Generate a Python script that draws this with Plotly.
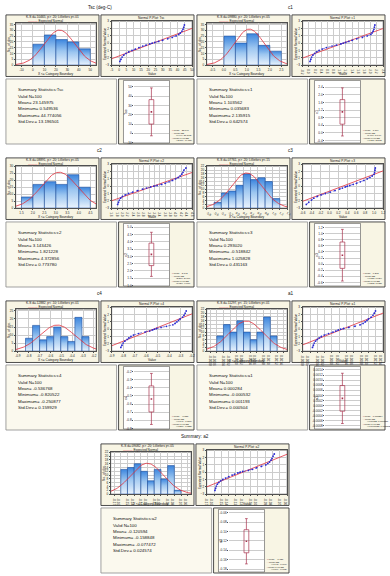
import numpy as np
import plotly.graph_objects as go

W, H = 390, 576
FONT = "Liberation Sans, Arial, sans-serif"

# ---------------- data ----------------
names = ["Tsc", "c1", "c2", "c3", "c4", "a1", "a2"]
block_titles = ["Tsc (deg-C)", "c1", "c2", "c3", "c4", "a1", "Summary: a2"]

# histogram: left edges of categories, category width, counts
tsc_bin_left = [0, 10, 20, 30, 40]
tsc_bin_width = 10
tsc_counts = [18, 26, 22, 20, 14]
c1_bin_left = [0.0, 0.5, 1.0, 1.5, 2.0]
c1_bin_width = 0.5
c1_counts = [25, 19, 27, 17, 12]
c2_bin_left = [1.5, 2.0, 2.5, 3.0, 3.5, 4.0]
c2_bin_width = 0.5
c2_counts = [8, 17, 19, 17, 24, 15]
c3_bin_left = [-0.6, -0.4, -0.2, 0.0, 0.2, 0.4, 0.6, 0.8, 1.0]
c3_bin_width = 0.2
c3_counts = [3, 8, 9, 12, 18, 15, 16, 14, 5]
c4_bin_left = [-0.83, -0.765, -0.70, -0.635, -0.57, -0.505, -0.44, -0.375, -0.31]
c4_bin_width = 0.065
c4_counts = [8, 16, 7, 9, 15, 9, 6, 21, 9]
a1_bin_left = [-0.0006, -0.0004, -0.0002, 0.0, 0.0002, 0.0004, 0.0006, 0.0008, 0.0010]
a1_bin_width = 0.0002
a1_counts = [8, 14, 10, 16, 10, 6, 10, 18, 8]
a2_bin_left = [-0.16, -0.15, -0.14, -0.13, -0.12, -0.11, -0.10, -0.09, -0.08]
a2_bin_width = 0.01
a2_counts = [13, 14, 16, 12, 7, 13, 8, 15, 2]

# summary statistics: valid N, mean, minimum, maximum, std.dev.
tsc_stats = [100, 23.145975, 0.549536, 44.774056, 13.196501]
c1_stats = [100, 1.103562, 0.035683, 2.135915, 0.642574]
c2_stats = [100, 3.143426, 1.821228, 4.372856, 0.773780]
c3_stats = [100, 0.293020, -0.518842, 1.025828, 0.431163]
c4_stats = [100, -0.536768, -0.820522, -0.250877, 0.159929]
a1_stats = [100, 0.000284, -0.000532, 0.001193, 0.000504]
a2_stats = [100, -0.120594, -0.158848, -0.077472, 0.024574]

ks_texts = [
    "K-S d=.10465, p> .20; Lilliefors p<.01",
    "K-S d=.09880, p> .20; Lilliefors p<.05",
    "K-S d=.08891, p> .20; Lilliefors p<.05",
    "K-S d=.07761, p> .20; Lilliefors p<.15",
    "K-S d=.12882, p< .10; Lilliefors p<.01",
    "K-S d=.11297, p< .15; Lilliefors p<.01",
    "K-S d=.09082, p> .20; Lilliefors p<.05",
]

# normal probability plot: expected normal values and observed values
pp_z = [-2.5, -2.2, -1.9, -1.65, -1.4, -1.2, -1.0, -0.8, -0.6, -0.4, -0.25, -0.1, 0.0,
        0.1, 0.25, 0.4, 0.6, 0.8, 1.0, 1.2, 1.4, 1.65, 1.9, 2.2, 2.5]
tsc_pp = [0.55, 1.3, 2.1, 3.2, 4.8, 6.6, 8.9, 11.2, 13.6, 16.3, 18.5, 20.9, 22.7,
          24.5, 27.2, 29.8, 33.3, 36.4, 39.1, 40.9, 42.0, 43.1, 43.8, 44.3, 44.77]
c1_pp = [0.036, 0.062, 0.089, 0.128, 0.186, 0.250, 0.331, 0.429, 0.564, 0.749, 0.898, 1.037, 1.111,
         1.185, 1.294, 1.399, 1.546, 1.730, 1.886, 2.006, 2.044, 2.080, 2.104, 2.120, 2.136]
c2_pp = [1.821, 1.852, 1.885, 1.932, 2.002, 2.103, 2.231, 2.388, 2.564, 2.749, 2.898, 3.059, 3.176,
         3.294, 3.467, 3.595, 3.741, 3.871, 3.982, 4.087, 4.155, 4.218, 4.261, 4.295, 4.373]
c3_pp = [-0.519, -0.464, -0.405, -0.351, -0.273, -0.189, -0.092, 0.020, 0.124, 0.227, 0.290, 0.356, 0.400,
         0.453, 0.532, 0.607, 0.689, 0.773, 0.845, 0.907, 0.956, 1.000, 1.011, 1.019, 1.026]
c4_pp = [-0.8205, -0.811, -0.801, -0.786, -0.765, -0.751, -0.732, -0.711, -0.668, -0.610, -0.569, -0.544, -0.527,
         -0.509, -0.470, -0.423, -0.367, -0.348, -0.332, -0.318, -0.304, -0.283, -0.270, -0.260, -0.2509]
a1_pp = [-0.000532, -0.000509, -0.000485, -0.000450, -0.000399, -0.000350, -0.000288, -0.000212, -0.000091,
         0.000031, 0.000102, 0.000175, 0.000240, 0.000320, 0.000462, 0.000631, 0.000771, 0.000853, 0.000913,
         0.000961, 0.000999, 0.001074, 0.001124, 0.001160, 0.001193]
a2_pp = [-0.1588, -0.1579, -0.1569, -0.1555, -0.1534, -0.1510, -0.1480, -0.1442, -0.1397, -0.1353, -0.1317,
         -0.1275, -0.1242, -0.1208, -0.1130, -0.1073, -0.1019, -0.0952, -0.0892, -0.0863, -0.0839, -0.0820,
         -0.0806, -0.0792, -0.0775]

# ---------------- per-variable axis settings ----------------
cfg = {
    "Tsc": dict(hx=[-15, 55], hdt=10, hy=[0, 36], hydt=5, px=[-5, 50], pdt=5, by=[-10, 56], bdt=10,
                bins=(tsc_bin_left, tsc_bin_width, tsc_counts), st=tsc_stats, pp=tsc_pp, org=(2, 0)),
    "c1": dict(hx=[-0.75, 2.75], hdt=0.5, hy=[0, 36], hydt=5, px=[-0.2, 2.4], pdt=0.2, by=[-0.5, 2.7], bdt=0.4,
               bins=(c1_bin_left, c1_bin_width, c1_counts), st=c1_stats, pp=c1_pp, org=(197, 0)),
    "c2": dict(hx=[1.25, 4.75], hdt=0.5, hy=[0, 30], hydt=5, px=[1.6, 4.6], pdt=0.2, by=[1.0, 5.2], bdt=0.5,
               bins=(c2_bin_left, c2_bin_width, c2_counts), st=c2_stats, pp=c2_pp, org=(2, 144)),
    "c3": dict(hx=[-0.8, 1.4], hdt=0.2, hy=[0, 22], hydt=2, px=[-0.6, 1.2], pdt=0.2, by=[-0.7, 1.3], bdt=0.2,
               bins=(c3_bin_left, c3_bin_width, c3_counts), st=c3_stats, pp=c3_pp, org=(197, 144)),
    "c4": dict(hx=[-0.92, -0.18], hdt=0.1, hy=[0, 26], hydt=5, px=[-0.9, -0.2], pdt=0.1, by=[-0.9, -0.15], bdt=0.1,
               bins=(c4_bin_left, c4_bin_width, c4_counts), st=c4_stats, pp=c4_pp, org=(2, 288)),
    "a1": dict(hx=[-0.0009, 0.0015], hdt=0.0002, hy=[0, 22], hydt=2, px=[-0.0008, 0.0014], pdt=0.0002,
               by=[-0.0009, 0.0015], bdt=0.0002,
               bins=(a1_bin_left, a1_bin_width, a1_counts), st=a1_stats, pp=a1_pp, org=(197, 288)),
    "a2": dict(hx=[-0.175, -0.055], hdt=0.01, hy=[0, 22], hydt=2, px=[-0.17, -0.06], pdt=0.01, by=[-0.185, -0.055],
               bdt=0.02, bins=(a2_bin_left, a2_bin_width, a2_counts), st=a2_stats, pp=a2_pp, org=(99, 432)),
}

# ---------------- helpers ----------------
fig = go.Figure()
shapes, annos, axes = [], [], {}
axn = [0]

CREAM = "#f8f5e4"
BORDER = "#3a3a3a"
BOXRED = "#a8324e"


def add_axes(x0, x1, y0, y1, xa, ya):
    axn[0] += 1
    n = axn[0]
    s = "" if n == 1 else str(n)
    xa = dict(xa)
    ya = dict(ya)
    xa.update(domain=[x0 / W, x1 / W], anchor="y" + s)
    ya.update(domain=[1 - y1 / H, 1 - y0 / H], anchor="x" + s)
    axes["xaxis" + s] = xa
    axes["yaxis" + s] = ya
    return "x" + s, "y" + s


def axstyle(**kw):
    d = dict(showgrid=True, gridcolor="#cccccc", gridwidth=0.5, zeroline=False, showline=True,
             linecolor="#505050", linewidth=0.6, mirror=True, ticks="outside", ticklen=1.2,
             tickwidth=0.5, tickcolor="#505050", tickfont=dict(size=3.1, family=FONT, color="#222"),
             showticklabels=True)
    d.update(kw)
    return d


def rect(x0, y0, x1, y1, fill, line, lw=0.8):
    shapes.append(dict(type="rect", xref="paper", yref="paper", x0=x0 / W, x1=x1 / W,
                       y0=1 - y1 / H, y1=1 - y0 / H, fillcolor=fill,
                       line=dict(color=line, width=lw), layer="below"))


def text(x, y, s, size=4, xanchor="center", yanchor="middle", color="#111", angle=0):
    annos.append(dict(x=x / W, y=1 - y / H, xref="paper", yref="paper", text=s, showarrow=False,
                      xanchor=xanchor, yanchor=yanchor, textangle=angle,
                      font=dict(size=size, family=FONT, color=color)))


def fmt_ticks(lo, hi, dt, stagger=False):
    vals, txt = [], []
    k0 = int(np.ceil(lo / dt - 1e-9))
    k1 = int(np.floor(hi / dt + 1e-9))
    dec = max(0, int(np.ceil(-np.log10(dt) - 1e-9)))
    if abs(dt * 10 ** dec - round(dt * 10 ** dec)) > 1e-9:
        dec += 1
    for i, k in enumerate(range(k0, k1 + 1)):
        v = round(k * dt, 10)
        t = f"{v:.{dec}f}"
        if t.startswith("-") and float(t) == 0:
            t = t[1:]
        if stagger and i % 2 == 1:
            t = "<br>" + t
        vals.append(v)
        txt.append(t)
    return vals, txt


def short(v):
    return f"{v:.4g}" if abs(v) < 0.01 else f"{v:.3f}"


def draw(idx, name):
    c = cfg[name]
    gx, gy = c["org"]
    lefts, width, counts = c["bins"]
    n, mean, vmin, vmax, sd = c["st"]
    stag = name in ("a1", "a2")

    # block title
    text(gx + 97, gy + 6, block_titles[idx], size=4.6)

    # ---------- histogram panel ----------
    rect(gx + 1, gy + 13, gx + 96, gy + 75, CREAM, BORDER, 0.9)
    px0, px1, py0, py1 = gx + 11, gx + 93, gy + 21.5, gy + 63.5
    rect(px0, py0, px1, py1, "white", "#505050", 0.5)
    tv, tt = fmt_ticks(c["hx"][0], c["hx"][1], c["hdt"], stagger=stag)
    yv, yt = fmt_ticks(c["hy"][0], c["hy"][1], c["hydt"])
    xr, yr = add_axes(px0, px1, py0, py1,
                      axstyle(range=c["hx"], tickvals=tv, ticktext=tt),
                      axstyle(range=c["hy"], tickvals=yv, ticktext=yt))
    for l, h in zip(lefts, counts):
        fig.add_trace(go.Scatter(
            x=[l, l, l + width, l + width, l], y=[0, h, h, 0, 0], xaxis=xr, yaxis=yr,
            mode="lines", fill="toself", line=dict(color="#1e4f9c", width=0.6),
            fillgradient=dict(type="vertical", colorscale=[[0, "#eaf3fd"], [0.55, "#9cc6f0"], [1, "#3d86de"]]),
            hoverinfo="skip", showlegend=False))
    xs = np.linspace(c["hx"][0], c["hx"][1], 120)
    ys = n * width / (sd * np.sqrt(2 * np.pi)) * np.exp(-0.5 * ((xs - mean) / sd) ** 2)
    fig.add_trace(go.Scatter(x=xs, y=ys, xaxis=xr, yaxis=yr, mode="lines",
                             line=dict(color="#e0303c", width=0.8), hoverinfo="skip", showlegend=False))
    text(gx + 48.5, gy + 15.5, ks_texts[idx], size=3.2)
    text(gx + 41, gy + 19, "<span style='color:#e0303c'>———</span> Expected Normal", size=3.2)
    xt_y = gy + 73.3 if stag else gy + 72.6
    text(gx + 52, xt_y, "X <= Category Boundary", size=3.2)
    text(gx + 4, (py0 + py1) / 2, "No. of obs.", size=3.3, angle=-90)

    # ---------- normal P-plot panel ----------
    rect(gx + 98, gy + 13, gx + 193, gy + 75, CREAM, BORDER, 0.9)
    qx0, qx1, qy0, qy1 = gx + 109, gx + 191, gy + 19.5, gy + 63.5
    rect(qx0, qy0, qx1, qy1, "white", "#505050", 0.5)
    tv, tt = fmt_ticks(c["px"][0], c["px"][1], c["pdt"], stagger=stag)
    xr, yr = add_axes(qx0, qx1, qy0, qy1,
                      axstyle(range=c["px"], tickvals=tv, ticktext=tt),
                      axstyle(range=[-3, 3], dtick=1))
    lx = np.array(c["px"])
    fig.add_trace(go.Scatter(x=lx, y=(lx - mean) / sd, xaxis=xr, yaxis=yr, mode="lines",
                             line=dict(color="#e0303c", width=0.8), hoverinfo="skip", showlegend=False))
    fig.add_trace(go.Scatter(x=c["pp"], y=pp_z, xaxis=xr, yaxis=yr, mode="lines+markers",
                             line=dict(color="#2a2ad0", width=0.6, dash="dot"),
                             marker=dict(size=1.8, color="#2a2ad0"),
                             hoverinfo="skip", showlegend=False))
    text(gx + 150, gy + 16.3, "Normal P-Plot: " + name, size=3.2)
    text(gx + 150, xt_y, "Value", size=3.2)
    text(gx + 102, (qy0 + qy1) / 2, "Expected Normal Value", size=3.1, angle=-90)

    # ---------- summary panel ----------
    rect(gx + 1, gy + 77.5, gx + 114, gy + 143, "#fbf9ee", "#8a8a8a", 0.8)
    lines = [f"Summary Statistics:{name}", f"Valid N={n}", f"Mean= {mean:.6f}",
             f"Minimum= {vmin:.6f}", f"Maximum= {vmax:.6f}", f"Std.Dev.= {sd:.6f}"]
    for k, s in enumerate(lines):
        text(gx + 11, gy + 88.5 + 6.4 * k, s, size=4.4, xanchor="left")

    # ---------- box plot panel ----------
    rect(gx + 116, gy + 77.5, gx + 193, gy + 143, CREAM, BORDER, 0.9)
    rect(gx + 121, gy + 79, gx + 168, gy + 142, "white", "#505050", 0.6)
    bx0, bx1, by0, by1 = gx + 132, gx + 167, gy + 80, gy + 141.5
    yv, yt = fmt_ticks(c["by"][0], c["by"][1], c["bdt"])
    xr, yr = add_axes(bx0, bx1, by0, by1,
                      axstyle(range=[-1, 1], showticklabels=False, ticks="", showgrid=False,
                              showline=False),
                      axstyle(range=c["by"], tickvals=yv, ticktext=yt, showline=False, ticklen=1))
    lo, hi = mean - sd, mean + sd
    wlo, whi = mean - 1.96 * sd, mean + 1.96 * sd
    fig.add_trace(go.Scatter(x=[-0.14, -0.14, 0.14, 0.14, -0.14], y=[lo, hi, hi, lo, lo], xaxis=xr, yaxis=yr,
                             mode="lines", line=dict(color=BOXRED, width=0.7), hoverinfo="skip",
                             showlegend=False))
    fig.add_trace(go.Scatter(x=[0, 0, None, 0, 0, None, -0.08, 0.08, None, -0.08, 0.08],
                             y=[hi, whi, None, lo, wlo, None, whi, whi, None, wlo, wlo],
                             xaxis=xr, yaxis=yr, mode="lines", line=dict(color=BOXRED, width=0.7),
                             hoverinfo="skip", showlegend=False))
    fig.add_trace(go.Scatter(x=[0], y=[mean], xaxis=xr, yaxis=yr, mode="markers",
                             marker=dict(size=1.6, color=BOXRED, symbol="square"),
                             hoverinfo="skip", showlegend=False))
    text(gx + 123.5, (by0 + by1) / 2, name, size=3.6, angle=-90)
    leg = [f"<span style='color:{BOXRED}'>▪</span> Mean = {short(mean)}",
           f"<span style='color:{BOXRED}'>□</span> Mean±SD",
           f"   = ({short(lo)}, {short(hi)})",
           f"<span style='color:{BOXRED}'>I</span> Mean±1.96*SD",
           f"   = ({short(wlo)}, {short(whi)})"]
    for k, s in enumerate(leg):
        text(gx + 168.5, gy + 129 + 2.7 * k, s, size=2.3, xanchor="left")


for i, nm in enumerate(names):
    draw(i, nm)

fig.update_layout(width=W, height=H, margin=dict(l=0, r=0, t=0, b=0),
                  paper_bgcolor="white", plot_bgcolor="rgba(0,0,0,0)",
                  shapes=shapes, annotations=annos, showlegend=False, **axes)
fig.write_html("out.html")
